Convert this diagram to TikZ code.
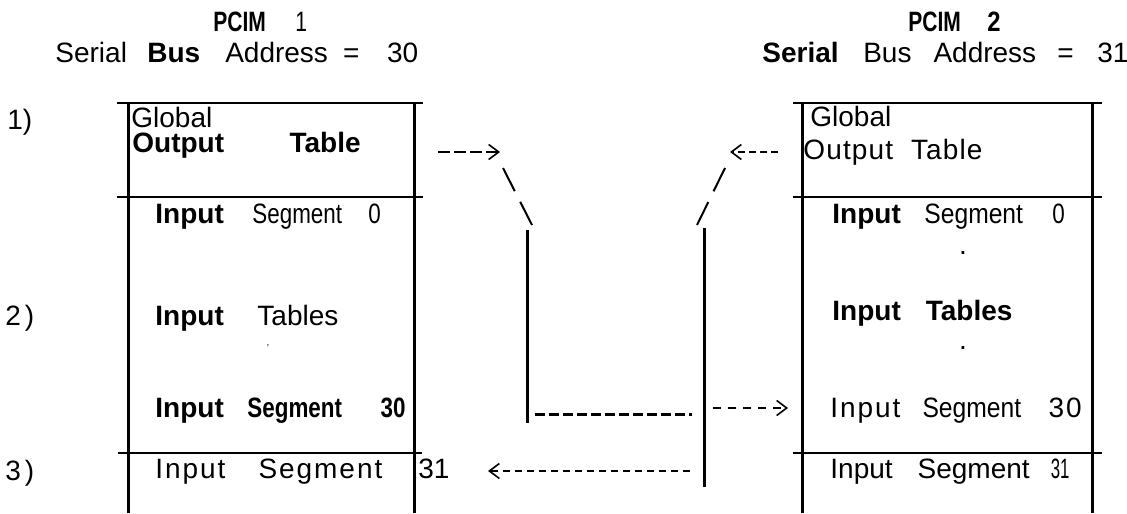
\documentclass[tikz,border=0pt]{standalone}
\usepackage{fontspec}
\setmainfont{Liberation Sans}
\usepackage{graphicx}
\usetikzlibrary{arrows.meta}
\newcommand{\cond}[2][0.8]{\scalebox{#1}[1]{#2}}
\newcommand{\wide}{\addfontfeature{LetterSpace=7}}

\begin{document}
\begin{tikzpicture}[x=0.5pt,y=-0.5pt,
    txt/.style={anchor=base west,inner sep=0pt,font=\fontsize{14pt}{16pt}\selectfont},
    dot/.style={inner sep=0pt,font=\fontsize{14pt}{16pt}\selectfont},
    rule/.style={line width=1pt},
    wall/.style={line width=1.5pt},
    bus/.style={line width=1.5pt},
    slant/.style={line width=1pt,dash pattern=on 13pt off 6pt},
    barb/.style={-{Straight Barb[length=5pt,width=7.5pt,line width=0.8pt]}},
  ]
  \useasboundingbox (0,0) rectangle (1127,513);

  % headings
  \node[txt] (pcim1) at (213,32) {\textbf{\cond[0.75]{PCIM}}\hspace{14.7pt}\cond[0.75]{1}};
  \node[txt] (addr1) at (55,63) {Serial\hspace{10.2pt}\textbf{Bus}\hspace{12.5pt}Address\hspace{7.6pt}=\hspace{13.8pt}30};
  \node[txt] (pcim2) at (908,32) {\textbf{\cond[0.75]{PCIM}}\hspace{13.2pt}\textbf{\cond[0.85]{2}}};
  \node[txt] (addr2) at (762,63) {\textbf{Serial}\hspace{12.3pt}Bus\hspace{11pt}Address\hspace{10.6pt}=\hspace{11.8pt}31};

  % row numbers
  \node[txt] (n1) at (7,130) {1)};
  \node[txt] (n2) at (5,325) {2\hspace{2pt})};
  \node[txt] (n3) at (5,480) {3\hspace{2pt})};

  % PCIM 1 memory
  \draw[rule] (117,103) -- (423,103);
  \draw[rule] (117,197) -- (423,197);
  \draw[rule] (118,453) -- (422,453);
  \draw[wall] (128,103) -- (128,513);
  \draw[wall] (414,103) -- (414,513);
  \node[txt] (glob1) at (131,128) {Global};
  \node[txt] (out1) at (132,153) {\textbf{Output}\hspace{32.7pt}\textbf{Table}};
  \node[txt] (seg1a) at (155,223) {\textbf{Input}\hspace{14.3pt}\cond{Segment}\hspace{13.2pt}\cond{0}};
  \node[txt] (tab1) at (155,325) {\textbf{Input}\hspace{16.8pt}Tables};
  \node[dot] (tk1) at (268,348) {\fontsize{5pt}{5pt}\selectfont'};
  \node[txt] (seg1b) at (155,417) {\textbf{Input}\hspace{11.8pt}\textbf{\cond{Segment}}\hspace{19.3pt}\textbf{\cond{30}}};
  \node[txt] (seg1c) at (155,478) {{\wide Input\hspace{16.5pt}Segment}\hspace{18pt}31};

  % PCIM 2 memory
  \draw[rule] (793,103) -- (1102,103);
  \draw[rule] (793,197) -- (1102,197);
  \draw[rule] (793,453) -- (1102,453);
  \draw[wall] (802,103) -- (802,513);
  \draw[wall] (1092,103) -- (1092,513);
  \node[txt] (glob2) at (810,127) {Global};
  \node[txt] (out2) at (803,160) {\addfontfeature{LetterSpace=4}Output\hspace{9pt}Table};
  \node[txt] (seg2a) at (832,223) {\textbf{Input}\hspace{11.8pt}\cond[0.88]{Segment}\hspace{14.7pt}\cond{0}};
  \node[dot] (dt2a) at (963,253) {.};
  \node[txt] (tab2) at (832,320) {\textbf{Input}\hspace{12.5pt}\textbf{Tables}};
  \node[dot] (dt2b) at (963,348) {.};
  \node[txt] (seg2b) at (830,417) {{\wide Input}\hspace{11pt}\cond[0.88]{Segment}\hspace{13.7pt}{\wide 30}};
  \node[txt] (seg2c) at (830,478) {Input\hspace{12.5pt}Segment\hspace{10.5pt}\cond[0.6]{31}};

  % PCIM 1 output -> PCIM 2 segment 30
  \coordinate (o1a) at (438,152);
  \coordinate (o1b) at (500,152);
  \coordinate (o1c) at (503,168);
  \coordinate (o1d) at (532,225);
  \coordinate (o1e) at (527,230);
  \coordinate (o1f) at (527,423);
  \coordinate (o1g) at (535,414);
  \coordinate (o1h) at (692,414);
  \coordinate (o1i) at (713,408);
  \coordinate (o1j) at (788,408);
  \draw[barb,line width=1.2pt,dash pattern=on 6pt off 2pt] (o1a) -- (o1b);
  \draw[slant] (o1c) -- (o1d);
  \draw[bus] (o1e) -- (o1f);
  \draw[line width=1.5pt,dash pattern=on 5pt off 2pt] (o1g) -- (o1h);
  \draw[barb,line width=1pt,dash pattern=on 4pt off 3.5pt] (o1i) -- (o1j);

  % PCIM 2 output -> PCIM 1 segment 31
  \coordinate (o2a) at (778,152);
  \coordinate (o2b) at (730,152);
  \coordinate (o2c) at (725,168);
  \coordinate (o2d) at (697,225);
  \coordinate (o2e) at (704,228);
  \coordinate (o2f) at (704,487);
  \coordinate (o2g) at (690,471);
  \coordinate (o2h) at (488,471);
  \draw[barb,line width=1pt,dash pattern=on 3.5pt off 2pt] (o2a) -- (o2b);
  \draw[slant] (o2c) -- (o2d);
  \draw[bus] (o2e) -- (o2f);
  \draw[barb,line width=1pt,dash pattern=on 3.5pt off 2.5pt] (o2g) -- (o2h);
\end{tikzpicture}
\end{document}
